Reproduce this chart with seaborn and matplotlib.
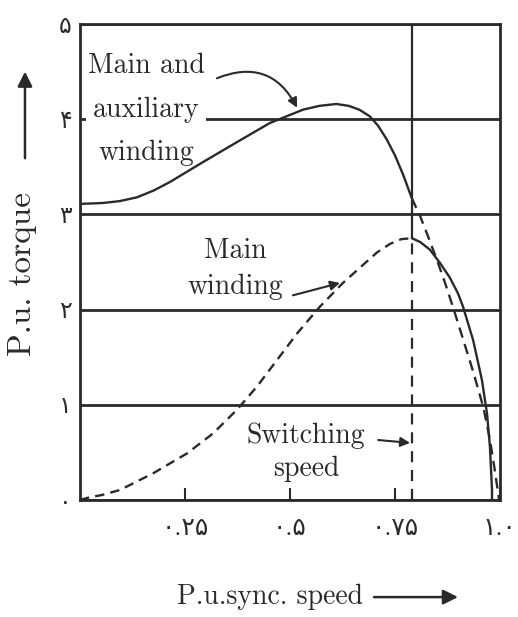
import pandas as pd
import matplotlib
matplotlib.use("Agg")
import matplotlib.pyplot as plt
import seaborn as sns

# values (per-unit speed / per-unit torque)
main_aux_speed = [0.0, 0.055, 0.095, 0.136, 0.175, 0.214, 0.293, 0.374, 0.452, 0.531, 0.57,
                  0.61, 0.64, 0.665, 0.69, 0.71, 0.73, 0.75, 0.77, 0.79,
                  0.81, 0.826, 0.85, 0.87, 0.89, 0.912, 0.936, 0.96, 0.975, 0.987, 0.995, 0.998]
main_aux_torque = [3.11, 3.12, 3.14, 3.18, 3.25, 3.34, 3.55, 3.76, 3.96, 4.10, 4.14,
                   4.16, 4.14, 4.10, 4.03, 3.93, 3.79, 3.62, 3.41, 3.17,
                   2.98, 2.80, 2.52, 2.27, 2.0, 1.69, 1.35, 0.98, 0.66, 0.33, 0.09, 0.0]

main_speed = [0.0, 0.024, 0.05, 0.095, 0.174, 0.255, 0.317, 0.374, 0.421, 0.469, 0.517, 0.571,
              0.626, 0.674, 0.707, 0.738, 0.765, 0.79,
              0.81, 0.833, 0.857, 0.88, 0.90, 0.912, 0.936, 0.957, 0.969, 0.976, 0.981, 0.981]
main_torque = [0.0, 0.03, 0.05, 0.105, 0.28, 0.49, 0.70, 0.95, 1.19, 1.47, 1.75, 2.03,
               2.28, 2.47, 2.60, 2.69, 2.74, 2.75,
               2.71, 2.63, 2.49, 2.34, 2.17, 2.03, 1.68, 1.26, 0.91, 0.56, 0.105, 0.0]

switching_speed = 0.79
y_ticks = [0, 1, 2, 3, 4, 5]
y_tick_labels = ['۰', '۱', '۲', '۳', '۴', '۵']
x_ticks = [0.25, 0.5, 0.75, 1.0]
x_tick_labels = ['۰.۲۵', '۰.۵', '۰.۷۵', '۱.۰']

ink = '#2a2a2a'

sns.set_theme(style="white")
plt.rcParams['font.family'] = ['cmr10', 'DejaVu Sans']
plt.rcParams['axes.unicode_minus'] = False

fig = plt.figure(figsize=(5.18, 6.17), dpi=100)
ax = fig.add_axes([80 / 518, 1 - 500 / 617, 420 / 518, 476 / 617])

aux = pd.DataFrame({'speed': main_aux_speed, 'torque': main_aux_torque})
main = pd.DataFrame({'speed': main_speed, 'torque': main_torque})

# before switching: main+aux solid, main dashed; after switching the other way round
lw = 1.7
sns.lineplot(data=aux[aux.speed <= switching_speed], x='speed', y='torque', ax=ax,
             color=ink, lw=lw, sort=False, estimator=None, zorder=5)
sns.lineplot(data=aux[aux.speed >= switching_speed], x='speed', y='torque', ax=ax,
             color=ink, lw=lw, sort=False, estimator=None, zorder=5,
             linestyle=(0, (4.5, 2.8)))
sns.lineplot(data=main[main.speed <= switching_speed], x='speed', y='torque', ax=ax,
             color=ink, lw=lw, sort=False, estimator=None, zorder=5,
             linestyle=(0, (4, 2.6)))
sns.lineplot(data=main[main.speed >= switching_speed], x='speed', y='torque', ax=ax,
             color=ink, lw=lw, sort=False, estimator=None, zorder=5)

# switching speed line: solid above the main winding peak, dashed below
peak = max(main_torque)
ax.plot([switching_speed, switching_speed], [peak, y_ticks[-1]], color=ink, lw=1.6, zorder=4)
ax.plot([switching_speed, switching_speed], [0, peak], color=ink, lw=1.6, zorder=4,
        linestyle=(0, (5, 3.5)))

ax.set_xlim(0, 1)
ax.set_ylim(0, 5)
ax.set_xticks(x_ticks)
ax.set_xticklabels(x_tick_labels)
ax.set_yticks(y_ticks)
ax.set_yticklabels(y_tick_labels)
ax.yaxis.grid(True, color=ink, lw=2.0)
ax.xaxis.grid(False)
ax.set_axisbelow(True)
ax.tick_params(axis='x', direction='in', length=9, width=1.5, color=ink, pad=13,
               labelsize=18, labelcolor=ink, bottom=True)
ax.tick_params(axis='y', length=0, pad=6, labelsize=17, labelcolor=ink)
for sp in ax.spines.values():
    sp.set_color(ink)
    sp.set_linewidth(2.0)

ax.set_xlabel('P.u.sync. speed', fontsize=20, color=ink)
ax.xaxis.set_label_coords(0.452, -0.175)
ax.set_ylabel('P.u. torque', fontsize=24, color=ink, va='center')
ax.yaxis.set_label_coords(-0.136, 0.475)

# label arrows
arr = dict(arrowstyle='-|>', color=ink, lw=1.8, mutation_scale=22, shrinkA=0, shrinkB=0)
ax.annotate('', xy=(0.90, -0.204), xytext=(0.70, -0.204), xycoords='axes fraction',
            textcoords='axes fraction', arrowprops=arr, annotation_clip=False)
ax.annotate('', xy=(-0.131, 0.90), xytext=(-0.131, 0.718), xycoords='axes fraction',
            textcoords='axes fraction', arrowprops=arr, annotation_clip=False)

# curve labels
ax.text(0.157, 4.10, 'Main and\nauxiliary\nwinding', fontsize=20, color=ink, ha='center',
        va='center', linespacing=1.85, zorder=3,
        bbox=dict(facecolor='white', edgecolor='none', pad=1))
ax.text(0.369, 2.43, 'Main\nwinding', fontsize=20, color=ink, ha='center', va='center',
        linespacing=1.45)
ax.text(0.538, 0.50, 'Switching\nspeed', fontsize=20, color=ink, ha='center', va='center',
        linespacing=1.3)

small = dict(arrowstyle='-|>', color=ink, lw=1.5, mutation_scale=14, shrinkA=0, shrinkB=0)
ax.annotate('', xy=(0.517, 4.12), xytext=(0.326, 4.43),
            arrowprops=dict(small, connectionstyle='arc3,rad=-0.45'))
ax.annotate('', xy=(0.619, 2.28), xytext=(0.507, 2.15), arrowprops=small)
ax.annotate('', xy=(0.786, 0.60), xytext=(0.71, 0.63), arrowprops=small)

fig.savefig('out.png', dpi=100, facecolor='white')
